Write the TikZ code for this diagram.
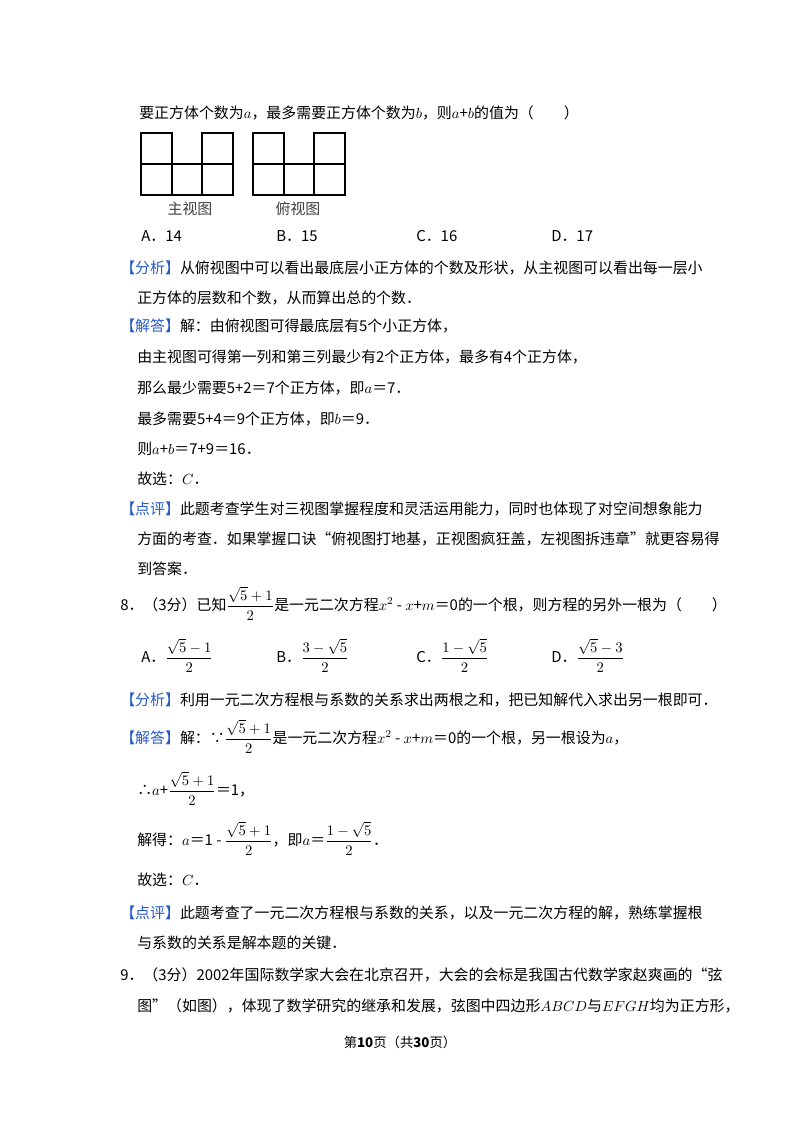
\documentclass[tikz,border=0pt]{standalone}
\usepackage{amsmath}
\usepackage{fontspec}
\setmainfont{Noto Sans CJK SC}
\definecolor{hl}{RGB}{40,90,200}
\newcommand{\tg}[1]{{\color{hl}【#1】}}
\newcommand{\fr}[2]{$\dfrac{#1}{#2}$}
\begin{document}
\begin{tikzpicture}[x=0.75pt,y=-0.75pt,
  txt/.style={anchor=base west,inner sep=0pt,font=\fontsize{11.2pt}{13pt}\selectfont},
  gl/.style={line width=0.9pt}]
\useasboundingbox (0,0) rectangle (800,1132);
\fill[white] (0,0) rectangle (800,1132);
\node[txt] (l1) at (139,118) {要正方体个数为$a$，最多需要正方体个数为$b$，则$a$+$b$的值为（　　）};
% front view
\draw[gl] (141,164) rectangle (233,195);
\draw[gl] (172,164) -- (172,195);
\draw[gl] (202,164) -- (202,195);
\draw[gl] (141,164) -- (141,133) -- (172,133) -- (172,164);
\draw[gl] (202,164) -- (202,133) -- (233,133) -- (233,164);
% top view
\draw[gl] (253,164) rectangle (345,195);
\draw[gl] (284,164) -- (284,195);
\draw[gl] (314,164) -- (314,195);
\draw[gl] (253,164) -- (253,133) -- (284,133) -- (284,164);
\draw[gl] (314,164) -- (314,133) -- (345,133) -- (345,164);
\node[txt,anchor=base,text=black!75] (c1) at (190,214) {主视图};
\node[txt,anchor=base,text=black!75] (c2) at (298,214) {俯视图};
\node[txt] (a1) at (141,241) {A．14};
\node[txt] (a2) at (276,241) {B．15};
\node[txt] (a3) at (416,241) {C．16};
\node[txt] (a4) at (551,241) {D．17};
\node[txt] (p1) at (120,273) {\tg{分析}从俯视图中可以看出最底层小正方体的个数及形状，从主视图可以看出每一层小};
\node[txt] (p2) at (137,303) {正方体的层数和个数，从而算出总的个数．};
\node[txt] (p3) at (120,331) {\tg{解答}解：由俯视图可得最底层有5个小正方体，};
\node[txt] (p4) at (137,362) {由主视图可得第一列和第三列最少有2个正方体，最多有4个正方体，};
\node[txt] (p5) at (137,393) {那么最少需要5+2＝7个正方体，即$a$＝7．};
\node[txt] (p6) at (137,424) {最多需要5+4＝9个正方体，即$b$＝9．};
\node[txt] (p7) at (137,454) {则$a$+$b$＝7+9＝16．};
\node[txt] (p8) at (137,484) {故选：$C$．};
\node[txt] (p9) at (120,514) {\tg{点评}此题考查学生对三视图掌握程度和灵活运用能力，同时也体现了对空间想象能力};
\node[txt] (p10) at (137,544) {方面的考查．如果掌握口诀“俯视图打地基，正视图疯狂盖，左视图拆违章”就更容易得};
\node[txt] (p11) at (137,574) {到答案．};
\node[txt] (q8) at (120,610) {8．（3分）已知\fr{\sqrt5+1}{2}是一元二次方程$x^2$ - $x$+$m$＝0的一个根，则方程的另外一根为（　　）};
\node[txt] (o1) at (141,662) {A．\fr{\sqrt5-1}{2}};
\node[txt] (o2) at (276,662) {B．\fr{3-\sqrt5}{2}};
\node[txt] (o3) at (416,662) {C．\fr{1-\sqrt5}{2}};
\node[txt] (o4) at (551,662) {D．\fr{\sqrt5-3}{2}};
\node[txt] (r1) at (120,705) {\tg{分析}利用一元二次方程根与系数的关系求出两根之和，把已知解代入求出另一根即可．};
\node[txt] (r2) at (120,743) {\tg{解答}解：∵\fr{\sqrt5+1}{2}是一元二次方程$x^2$ - $x$+$m$＝0的一个根，另一根设为$a$，};
\node[txt] (r3) at (137,795) {∴$a$+\fr{\sqrt5+1}{2}＝1，};
\node[txt] (r4) at (137,845) {解得：$a$＝1 - \fr{\sqrt5+1}{2}，即$a$＝\fr{1-\sqrt5}{2}．};
\node[txt] (r5) at (137,885) {故选：$C$．};
\node[txt] (r6) at (120,918) {\tg{点评}此题考查了一元二次方程根与系数的关系，以及一元二次方程的解，熟练掌握根};
\node[txt] (r7) at (137,948) {与系数的关系是解本题的关键．};
\node[txt] (q9) at (120,980) {9．（3分）2002年国际数学家大会在北京召开，大会的会标是我国古代数学家赵爽画的“弦};
\node[txt] (q9b) at (137,1011) {图”（如图），体现了数学研究的继承和发展，弦图中四边形$ABCD$与$EFGH$均为正方形，};
\node[txt,anchor=base,font=\fontsize{10pt}{12pt}\selectfont] (ft) at (400,1047) {第\textbf{10}页（共\textbf{30}页）};
\end{tikzpicture}
\end{document}
